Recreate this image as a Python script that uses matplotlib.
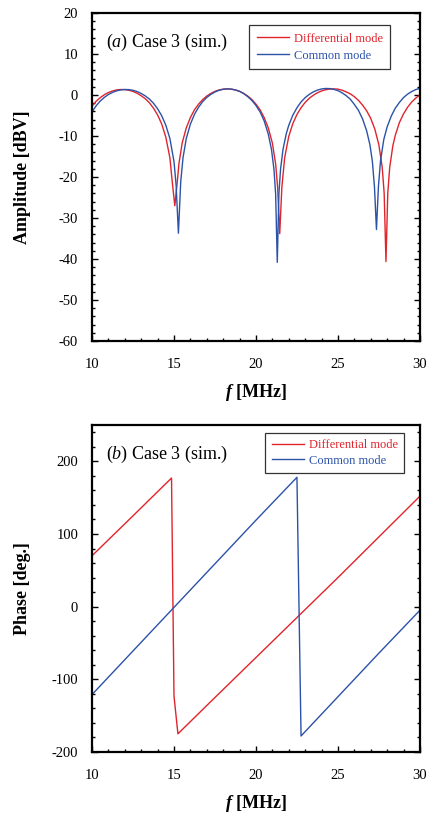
import matplotlib
matplotlib.use("Agg")
import matplotlib.pyplot as plt
from matplotlib.ticker import MultipleLocator

plt.rcParams['font.family'] = ['Liberation Serif', 'DejaVu Serif']
plt.rcParams['mathtext.fontset'] = 'custom'
plt.rcParams['mathtext.rm'] = 'Liberation Serif'
plt.rcParams['mathtext.it'] = 'Liberation Serif:italic'
plt.rcParams['mathtext.bf'] = 'Liberation Serif:italic:bold'
plt.rcParams['axes.unicode_minus'] = False

RED = '#e0242c'
BLUE = '#2c52a8'

# ---- Amplitude (a) ----
f_dm_amp = [10.0, 10.25, 10.5, 10.75, 11.0, 11.25, 11.5, 11.75, 12.0, 12.25, 12.5, 12.75,
            13.0, 13.25, 13.5, 13.75, 14.0, 14.25, 14.5, 14.75, 14.9, 15.05, 15.2, 15.3,
            15.5, 15.75, 16.0, 16.25, 16.5, 16.75, 17.0, 17.25, 17.5, 17.75, 18.0, 18.25,
            18.5, 18.75, 19.0, 19.25, 19.5, 19.75, 20.0, 20.25, 20.5, 20.75, 21.0, 21.2,
            21.32, 21.45, 21.58, 21.75, 22.0, 22.25, 22.5, 22.75, 23.0, 23.25, 23.5, 23.75,
            24.0, 24.25, 24.5, 24.75, 25.0, 25.25, 25.5, 25.75, 26.0, 26.25, 26.5, 26.75,
            27.0, 27.25, 27.5, 27.7, 27.82, 27.93, 28.04, 28.16, 28.35, 28.5, 28.75, 29.0,
            29.25, 29.5, 29.75, 30.0]
a_dm = [-2.7, -1.53, -0.64, 0.07, 0.61, 0.99, 1.24, 1.35, 1.32, 1.16, 0.89, 0.44,
        -0.17, -0.91, -1.9, -3.21, -4.85, -7.07, -10.25, -15.3, -21.4, -27.0, -21.2, -16.8,
        -11.7, -8.0, -5.5, -3.6, -2.22, -1.1, -0.25, 0.4, 0.9, 1.24, 1.43, 1.5,
        1.43, 1.24, 0.9, 0.4, -0.25, -1.1, -2.22, -3.6, -5.5, -8.0, -11.7, -16.8,
        -22.4, -33.8, -22.5, -15.3, -10.1, -6.95, -4.75, -3.1, -1.8, -0.8, -0.05, 0.55,
        1.0, 1.3, 1.46, 1.5, 1.44, 1.18, 0.79, 0.3, -0.4, -1.28, -2.45, -3.83,
        -5.7, -8.3, -12.2, -17.6, -23.95, -40.6, -23.95, -17.6, -12.35, -9.8, -6.7, -4.6,
        -2.97, -1.7, -0.74, 0.02]

f_cm_amp = [10.0, 10.25, 10.5, 10.75, 11.0, 11.25, 11.5, 11.75, 12.0, 12.25, 12.5, 12.75,
            13.0, 13.25, 13.5, 13.75, 14.0, 14.25, 14.5, 14.75, 15.0, 15.13, 15.27, 15.41,
            15.55, 15.75, 16.0, 16.25, 16.5, 16.75, 17.0, 17.25, 17.5, 17.75, 18.0, 18.25,
            18.5, 18.75, 19.0, 19.25, 19.5, 19.75, 20.0, 20.25, 20.5, 20.75, 20.95, 21.1,
            21.2, 21.3, 21.4, 21.5, 21.65, 21.85, 22.0, 22.25, 22.5, 22.75, 23.0, 23.25,
            23.5, 23.75, 24.0, 24.25, 24.5, 24.75, 25.0, 25.25, 25.5, 25.75, 26.0, 26.25,
            26.5, 26.75, 26.95, 27.1, 27.23, 27.35, 27.47, 27.6, 27.8, 28.0, 28.25, 28.5,
            28.75, 29.0, 29.25, 29.5, 29.75, 30.0]
a_cm = [-4.1, -2.63, -1.47, -0.58, 0.13, 0.64, 1.02, 1.25, 1.35, 1.32, 1.15, 0.85,
        0.39, -0.22, -0.98, -2.0, -3.35, -5.05, -7.33, -10.6, -16.2, -22.0, -33.7, -21.2,
        -15.3, -10.6, -7.1, -4.7, -2.97, -1.6, -0.6, 0.17, 0.75, 1.15, 1.4, 1.5,
        1.44, 1.24, 0.9, 0.35, -0.4, -1.32, -2.55, -4.1, -6.3, -9.5, -13.35, -18.2,
        -24.1, -40.8, -24.0, -18.1, -13.25, -9.4, -7.4, -4.9, -3.1, -1.68, -0.64, 0.15,
        0.77, 1.2, 1.48, 1.6, 1.57, 1.39, 1.07, 0.55, -0.14, -1.0, -2.28, -3.73,
        -5.8, -8.7, -12.1, -16.15, -22.5, -32.8, -22.3, -15.95, -10.8, -7.8, -5.15, -3.2,
        -1.8, -0.62, 0.22, 0.85, 1.34, 1.64]

# ---- Phase (b) ----
f_dm_ph = [10.0, 12.5, 14.85, 15.0, 15.24, 17.5, 20.0, 22.5, 25.0, 27.5, 30.0]
p_dm = [70.0, 125.0, 177.0, -123.0, -175.0, -125.0, -70.0, -15.0, 40.0, 96.0, 152.0]

f_cm_ph = [10.0, 12.5, 15.0, 17.5, 20.0, 22.5, 22.75, 25.0, 27.5, 30.0]
p_cm = [-121.0, -61.0, -1.0, 59.0, 119.0, 178.0, -178.0, -124.0, -64.0, -5.0]

labels = ['Differential mode', 'Common mode']
xticks = [10, 15, 20, 25, 30]

fig = plt.figure(figsize=(4.32, 8.14), dpi=100)
ax1 = fig.add_axes([0.213, 0.581, 0.759, 0.403])
ax2 = fig.add_axes([0.213, 0.0762, 0.759, 0.4017])


def style(ax, ylab, ymin, ymax, ymaj, ymin_step):
    ax.set_xlim(10, 30)
    ax.set_ylim(ymin, ymax)
    ax.set_xticks(xticks)
    ax.xaxis.set_minor_locator(MultipleLocator(1))
    ax.yaxis.set_major_locator(MultipleLocator(ymaj))
    ax.yaxis.set_minor_locator(MultipleLocator(ymin_step))
    ax.tick_params(axis='both', which='both', direction='in', top=False, right=True,
                   labelsize=10.5, width=1.0)
    ax.tick_params(axis='x', which='major', length=4.5, pad=12)
    ax.tick_params(axis='y', which='major', length=4.5, pad=10)
    ax.tick_params(which='minor', length=2.5)
    for s in ax.spines.values():
        s.set_linewidth(1.6)
    ax.set_xlabel(r'$\mathbf{f}$ [MHz]', fontsize=13, fontweight='bold', labelpad=8)
    ax.set_ylabel(ylab, fontsize=13, fontweight='bold')
    ax.yaxis.set_label_coords(-0.185, 0.5)


ax1.plot(f_dm_amp, a_dm, color=RED, lw=1.0, label=labels[0])
ax1.plot(f_cm_amp, a_cm, color=BLUE, lw=1.0, label=labels[1])
style(ax1, 'Amplitude [dBV]', -60, 20, 10, 2)
ax1.text(0.043, 0.909, r'($\it{a}$) Case 3 (sim.)', transform=ax1.transAxes,
         fontsize=13, va='center', ha='left')
leg1 = ax1.legend(loc='upper right', bbox_to_anchor=(0.909, 0.963), fontsize=9,
                  frameon=True, fancybox=False, edgecolor='black', handlelength=2.6,
                  handletextpad=0.35, borderpad=0.6, labelspacing=0.4,
                  borderaxespad=0)
leg1.get_frame().set_linewidth(0.9)
for t, c in zip(leg1.get_texts(), [RED, BLUE]):
    t.set_color(c)

ax2.plot(f_dm_ph, p_dm, color=RED, lw=1.0, label=labels[0])
ax2.plot(f_cm_ph, p_cm, color=BLUE, lw=1.0, label=labels[1])
style(ax2, 'Phase [deg.]', -200, 250, 100, 20)
ax2.set_yticks([-200, -100, 0, 100, 200])
ax2.text(0.043, 0.911, r'($\it{b}$) Case 3 (sim.)', transform=ax2.transAxes,
         fontsize=13, va='center', ha='left')
leg2 = ax2.legend(loc='upper right', bbox_to_anchor=(0.951, 0.976), fontsize=9,
                  frameon=True, fancybox=False, edgecolor='black', handlelength=2.6,
                  handletextpad=0.35, borderpad=0.5, labelspacing=0.3,
                  borderaxespad=0)
leg2.get_frame().set_linewidth(0.9)
for t, c in zip(leg2.get_texts(), [RED, BLUE]):
    t.set_color(c)

fig.savefig('out.png', dpi=100)
